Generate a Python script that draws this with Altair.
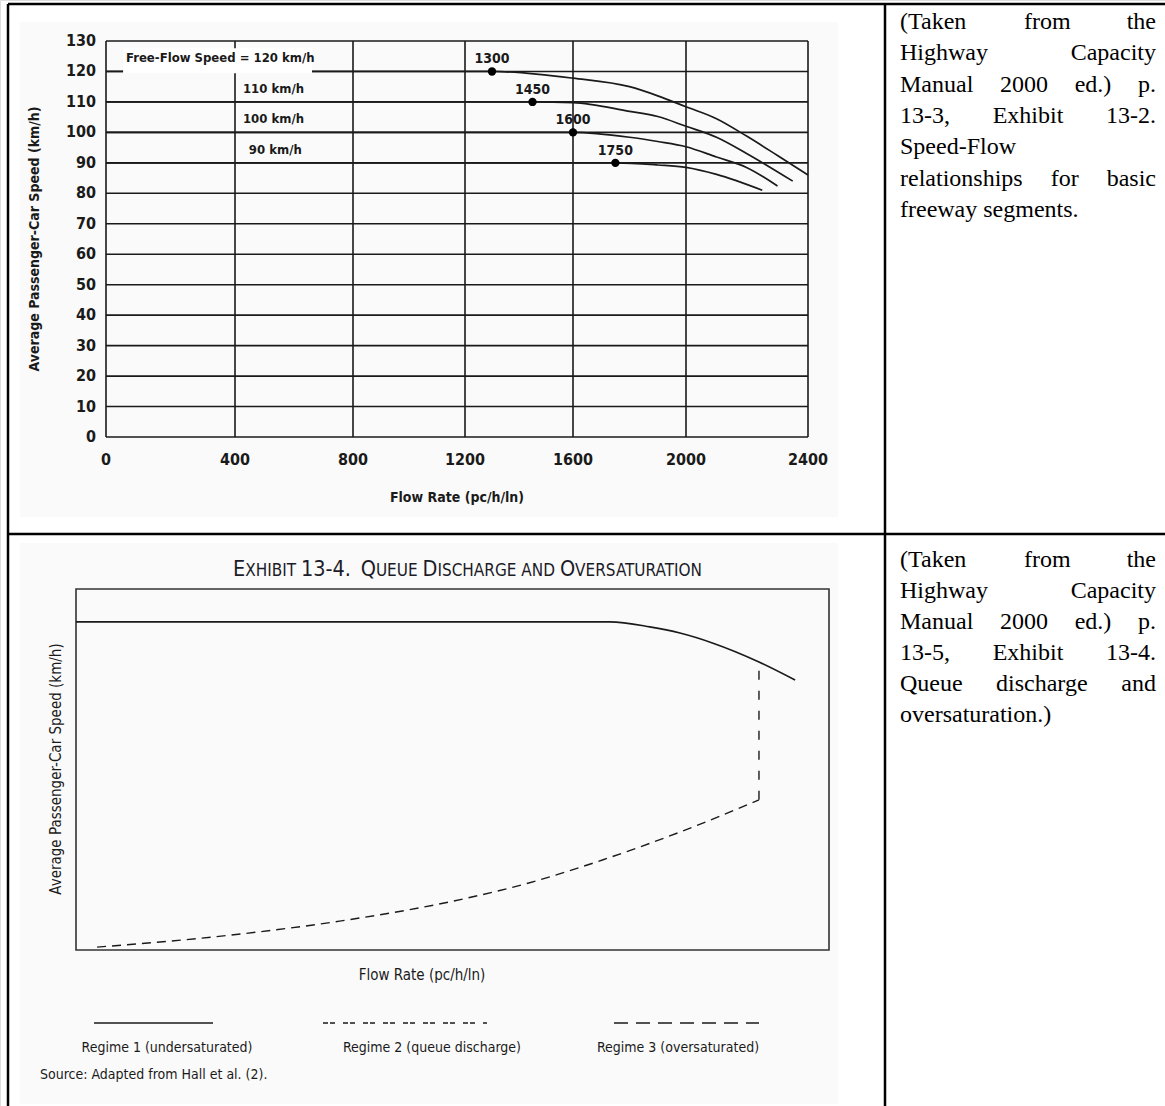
import altair as alt
import pandas as pd

# ---------------- Exhibit 13-2: speed-flow curves ----------------
FLOW_TICKS = [0, 400, 800, 1200, 1600, 2000, 2400]
SPEED_TICKS = [0, 10, 20, 30, 40, 50, 60, 70, 80, 90, 100, 110, 120, 130]

FFS = [120, 110, 100, 90]
BREAKPOINTS = [1300, 1450, 1600, 1750]
FFS_TEXT = ["Free-Flow Speed = 120 km/h", "110 km/h", "100 km/h", "90 km/h"]

flow_120 = [0, 1300, 1600, 1800, 1900, 2000, 2100, 2200, 2300, 2400]
speed_120 = [120, 120, 117.8, 115.0, 112.0, 108.4, 104.5, 98.7, 92.4, 86]
flow_110 = [0, 1450, 1600, 1800, 1900, 2000, 2100, 2200, 2350]
speed_110 = [110, 110, 109.8, 106.9, 105.2, 102.0, 98.4, 93.0, 84]
flow_100 = [0, 1600, 1800, 1900, 2000, 2100, 2200, 2300]
speed_100 = [100, 100, 98.4, 97.0, 95.3, 91.9, 88.4, 82.4]
flow_90 = [0, 1750, 1900, 2000, 2100, 2250]
speed_90 = [90, 90, 89.3, 88.5, 86.2, 81]

# ---------------- Exhibit 13-4: queue discharge (schematic, 0-100 units) ----------------
R1_FLOW = [0, 70.9, 76.2, 80.2, 84.6, 90.7, 95.5]
R1_SPEED = [90.9, 90.9, 89.5, 87.8, 85.0, 79.8, 74.8]
R2_FLOW = [90.7, 90.7]
R2_SPEED = [41.6, 79.8]
R3_FLOW = [2.8, 20, 35, 50, 60, 70, 80, 90.7]
R3_SPEED = [0.8, 4, 8, 13.5, 18.5, 25, 32.5, 41.6]
REGIMES = ["Regime 1 (undersaturated)", "Regime 2 (queue discharge)", "Regime 3 (oversaturated)"]

# exhibit title set in small capitals: (text, is_capital); blank runs only advance the pen
TITLE_RUNS = [("E", True), ("XHIBIT", False), (" ", False), ("13-4.", True), ("  ", False),
              ("Q", True), ("UEUE", False), (" ", False), ("D", True), ("ISCHARGE", False),
              (" ", False), ("AND", False), (" ", False), ("O", True), ("VERSATURATION", False)]

NOTE_TOP = ["(Taken from the", "Highway Capacity", "Manual 2000 ed.) p.",
            "13-3, Exhibit 13-2.", "Speed-Flow", "relationships for basic",
            "freeway segments."]
NOTE_TOP_JUSTIFY = [True, True, True, True, False, True, False]
NOTE_BOTTOM = ["(Taken from the", "Highway Capacity", "Manual 2000 ed.) p.",
               "13-5, Exhibit 13-4.", "Queue discharge and", "oversaturation.)"]
NOTE_BOTTOM_JUSTIFY = [True, True, True, True, True, False]

# ---------------- styling ----------------
FONT_N = "DejaVu Sans Condensed, Liberation Sans Narrow, sans-serif"
FONT_S = "Liberation Serif, Times New Roman, serif"
INK = "#1a1a1a"

x_top = alt.Scale(domain=FLOW_TICKS, range=[106, 235, 353, 465, 573, 686, 808])
y_top = alt.Scale(domain=[0, 130], range=[437, 41])
x_bot = alt.Scale(domain=[0, 100], range=[76, 829])
y_bot = alt.Scale(domain=[0, 100], range=[950, 589])


def qx(field, scale):
    return alt.X(field, type="quantitative", scale=scale, axis=None)


def qy(field, scale):
    return alt.Y(field, type="quantitative", scale=scale, axis=None)


def px(field):
    return alt.X(field, type="quantitative", scale=None, axis=None)


def py(field):
    return alt.Y(field, type="quantitative", scale=None, axis=None)


layers = []

# light paper tone behind the two pasted exhibits
panels = pd.DataFrame({"x0": [20, 20], "x1": [838, 838], "y0": [22, 543], "y1": [517, 1104]})
layers.append(alt.Chart(panels).mark_rect(color="#fafafa").encode(
    x=px("x0"), x2="x1", y=py("y0"), y2="y1"))

# ---- top exhibit: grid and frame ----
hgrid = pd.DataFrame({"speed": SPEED_TICKS, "f0": 0, "f1": 2400})
vgrid = pd.DataFrame({"flow": FLOW_TICKS, "s0": 0, "s1": 130})
layers.append(alt.Chart(hgrid).mark_rule(color=INK, strokeWidth=1.6).encode(
    x=qx("f0", x_top), x2="f1", y=qy("speed", y_top)))
layers.append(alt.Chart(vgrid).mark_rule(color=INK, strokeWidth=1.6).encode(
    x=qx("flow", x_top), y=qy("s0", y_top), y2="s1"))

curves = pd.concat([
    pd.DataFrame({"ffs": f, "flow": fl, "speed": sp})
    for f, fl, sp in [(120, flow_120, speed_120), (110, flow_110, speed_110),
                      (100, flow_100, speed_100), (90, flow_90, speed_90)]
])
layers.append(alt.Chart(curves).mark_line(color=INK, strokeWidth=1.7, interpolate="monotone").encode(
    x=qx("flow", x_top), y=qy("speed", y_top), detail="ffs:N"))

# label box that breaks the 120 km/h line
box = pd.DataFrame({"f0": [53], "f1": [661], "s0": [119.4], "s1": [127.6]})
layers.append(alt.Chart(box).mark_rect(color="white").encode(
    x=qx("f0", x_top), x2="f1", y=qy("s0", y_top), y2="s1"))

ffs_lab = pd.DataFrame({"txt": FFS_TEXT, "speed": [v + 4.3 for v in FFS],
                        "flow": [62, 427, 427, 447]})
layers.append(alt.Chart(ffs_lab).mark_text(font=FONT_N, fontWeight="bold", fontSize=13,
                                           align="left", baseline="middle", color=INK).encode(
    x=qx("flow", x_top), y=qy("speed", y_top), text="txt:N"))

bp = pd.DataFrame({"flow": BREAKPOINTS, "speed": FFS})
layers.append(alt.Chart(bp).mark_circle(size=70, color="black", opacity=1).encode(
    x=qx("flow", x_top), y=qy("speed", y_top)))
layers.append(alt.Chart(bp).mark_text(font=FONT_N, fontWeight="bold", fontSize=14, dy=-12,
                                      baseline="middle", color=INK).encode(
    x=qx("flow", x_top), y=qy("speed", y_top), text=alt.Text("flow:Q", format="d")))

# tick labels
xt = pd.DataFrame({"v": FLOW_TICKS})
yt = pd.DataFrame({"v": SPEED_TICKS})
layers.append(alt.Chart(xt).mark_text(font=FONT_N, fontWeight="bold", fontSize=16,
                                      baseline="middle", color=INK).encode(
    x=qx("v", x_top), y=alt.value(460), text=alt.Text("v:Q", format="d")))
layers.append(alt.Chart(yt).mark_text(font=FONT_N, fontWeight="bold", fontSize=16,
                                      align="right", baseline="middle", color=INK).encode(
    x=alt.value(96), y=qy("v", y_top), text=alt.Text("v:Q", format="d")))

# axis titles
layers.append(alt.Chart(pd.DataFrame({"txt": ["Average Passenger-Car Speed (km/h)"], "x": [35], "y": [239]}))
              .mark_text(font=FONT_N, fontWeight="bold", fontSize=14, angle=270,
                         baseline="middle", color=INK).encode(
    x=px("x"), y=py("y"), text="txt:N"))
layers.append(alt.Chart(pd.DataFrame({"txt": ["Flow Rate (pc/h/ln)"], "x": [457], "y": [498]}))
              .mark_text(font=FONT_N, fontWeight="bold", fontSize=14,
                         baseline="middle", color=INK).encode(
    x=px("x"), y=py("y"), text="txt:N"))

# ---- bottom exhibit ----
frame = pd.DataFrame({"a0": [0], "a1": [100], "b0": [0], "b1": [100]})
layers.append(alt.Chart(frame).mark_rect(fillOpacity=0, stroke="#333333", strokeWidth=1.6).encode(
    x=qx("a0", x_bot), x2="a1", y=qy("b0", y_bot), y2="b1"))

r1 = pd.DataFrame({"flow": R1_FLOW, "speed": R1_SPEED})
r2 = pd.DataFrame({"flow": R2_FLOW, "speed": R2_SPEED})
r3 = pd.DataFrame({"flow": R3_FLOW, "speed": R3_SPEED})
layers.append(alt.Chart(r1).mark_line(color=INK, strokeWidth=1.6, interpolate="monotone").encode(
    x=qx("flow", x_bot), y=qy("speed", y_bot)))
layers.append(alt.Chart(r2).mark_line(color=INK, strokeWidth=1.4, strokeDash=[9, 11]).encode(
    x=qx("flow", x_bot), y=qy("speed", y_bot), order="speed:Q"))
layers.append(alt.Chart(r3).mark_line(color=INK, strokeWidth=1.4, strokeDash=[9, 6],
                                      interpolate="monotone").encode(
    x=qx("flow", x_bot), y=qy("speed", y_bot)))

# small-capital title: each run placed after the previous one
CAP_W = {"A": .684, "B": .686, "C": .698, "D": .770, "E": .632, "G": .775, "H": .752, "I": .295,
         "N": .748, "O": .787, "Q": .787, "R": .695, "S": .635, "T": .611, "U": .732, "V": .684,
         "X": .685, "-": .361, ".": .318, " ": .318}
BIG, SMALL = 21.5, 17
runs, widths = [], []
for txt, cap in TITLE_RUNS:
    size = BIG if cap else SMALL
    w = sum(CAP_W.get(c, .636) for c in txt) * size * 0.9
    runs.append({"txt": txt, "size": size})
    widths.append(w)
x_cur = 469 - sum(widths) / 2
for r, w in zip(runs, widths):
    r["x"] = x_cur
    x_cur += w
title_df = pd.DataFrame(runs)
title_df = title_df[title_df["txt"].str.strip() != ""]
for size in (BIG, SMALL):
    layers.append(alt.Chart(title_df[title_df["size"] == size]).mark_text(
        font=FONT_N, fontSize=size, align="left", baseline="alphabetic", color="#1c1c28").encode(
        x=px("x"), y=alt.value(576), text="txt:N"))

btxt = pd.DataFrame({"txt": ["Flow Rate (pc/h/ln)", "Source: Adapted from Hall et al. (2)."],
                     "x": [422, 40], "y": [975, 1075]})
layers.append(alt.Chart(btxt.iloc[[0]]).mark_text(font=FONT_N, fontSize=15, baseline="middle",
                                                 color=INK).encode(
    x=px("x"), y=py("y"), text="txt:N"))
layers.append(alt.Chart(btxt.iloc[[1]]).mark_text(font=FONT_N, fontSize=14, baseline="middle",
                                                 align="left", color=INK).encode(
    x=px("x"), y=py("y"), text="txt:N"))
layers.append(alt.Chart(pd.DataFrame({"txt": ["Average Passenger-Car Speed (km/h)"], "x": [56], "y": [769]}))
              .mark_text(font=FONT_N, fontSize=15, angle=270, baseline="middle", color=INK).encode(
    x=px("x"), y=py("y"), text="txt:N"))

# legend row
leg = pd.DataFrame({"txt": REGIMES, "cx": [167, 432, 678],
                    "l0": [94, 323, 614], "l1": [213, 487, 759]})
dashes = [None, [5, 2, 5, 8], [14, 8]]
for i in range(3):
    mk = dict(color=INK, strokeWidth=1.4)
    if dashes[i]:
        mk["strokeDash"] = dashes[i]
    layers.append(alt.Chart(leg.iloc[[i]]).mark_rule(**mk).encode(
        x=px("l0"), x2="l1", y=alt.value(1023)))
layers.append(alt.Chart(leg).mark_text(font=FONT_N, fontSize=14, baseline="middle", color=INK).encode(
    x=px("cx"), y=alt.value(1048), text="txt:N"))

# ---- right-hand notes, justified in a Times-style column ----
TIMES_W = {
    "a": .444, "b": .5, "c": .444, "d": .5, "e": .444, "f": .333, "g": .5, "h": .5, "i": .278,
    "j": .278, "k": .5, "l": .278, "m": .778, "n": .5, "o": .5, "p": .5, "q": .5, "r": .333,
    "s": .389, "t": .278, "u": .5, "v": .5, "w": .722, "x": .5, "y": .5, "z": .444,
    "C": .667, "E": .611, "F": .556, "H": .722, "M": .889, "Q": .722, "S": .556, "T": .611,
    "(": .333, ")": .333, ".": .25, ",": .25, "-": .333, " ": .25,
}
NOTE_SIZE = 24
COL_L, COL_R = 900, 1156


def word_width(w):
    return sum(TIMES_W.get(c, 0.5) for c in w) * NOTE_SIZE


def layout_note(lines, justify, y0, step):
    rows = []
    for i, (line, jus) in enumerate(zip(lines, justify)):
        words = line.split(" ")
        widths_ = [word_width(w) for w in words]
        if jus and len(words) > 1:
            gap = (COL_R - COL_L - sum(widths_)) / (len(words) - 1)
        else:
            gap = TIMES_W[" "] * NOTE_SIZE
        x = COL_L
        for w, wd in zip(words, widths_):
            rows.append({"w": w, "x": x, "y": y0 + i * step})
            x += wd + gap
    return pd.DataFrame(rows)


notes = pd.concat([layout_note(NOTE_TOP, NOTE_TOP_JUSTIFY, 22, 31.3),
                   layout_note(NOTE_BOTTOM, NOTE_BOTTOM_JUSTIFY, 560, 31)])
layers.append(alt.Chart(notes).mark_text(font=FONT_S, fontSize=NOTE_SIZE, align="left",
                                         baseline="middle", color="black").encode(
    x=px("x"), y=py("y"), text="w:N"))

# ---- table rules ----
rules = pd.DataFrame({
    "x0": [8, 8, 8, 885], "x1": [8, 1165, 1165, 885],
    "y0": [4, 4, 534, 4], "y1": [1106, 4, 534, 1106]})
layers.append(alt.Chart(rules).mark_rule(color="black", strokeWidth=2.5).encode(
    x=px("x0"), x2="x1", y=py("y0"), y2="y1"))

chart = (
    alt.layer(*layers)
    .resolve_scale(x="independent", y="independent")
    .properties(width=1165, height=1106, autosize=alt.AutoSizeParams(type="none"), padding=0)
    .configure_view(stroke=None)
    .configure(background="white")
)

chart.save("out.html", embed_options={"renderer": "svg", "actions": False})
